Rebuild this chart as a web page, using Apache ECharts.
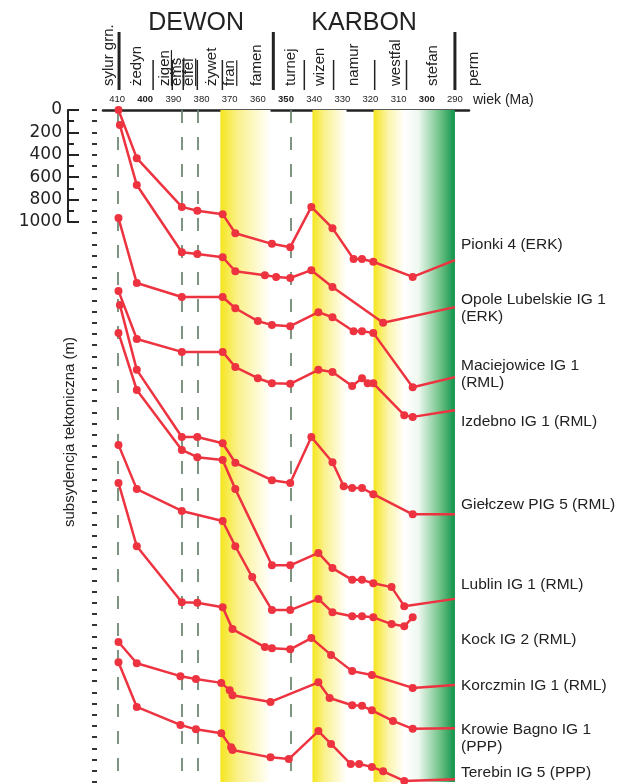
<!DOCTYPE html>
<html>
<head>
<meta charset="utf-8">
<script src="https://cdn.jsdelivr.net/npm/echarts@6/dist/echarts.min.js"></script>
<style>
html, body { margin: 0; padding: 0; background: #fff; }
#main { width: 634px; height: 784px; }
</style>
</head>
<body>
<div id="main"></div>
<script>
// [wiek (Ma), subsydencja (m)] - krzywe przesuniete w pionie jak na rysunku
var pionki = [[409.5,0],[403,430],[387,865],[381.5,900],[372.5,930],[368,1100],[355,1195],[348.5,1225],[341,865],[333.5,1055],[326,1330],[323,1330],[319,1355],[305,1490],[290,1340]];
var opole = [[409,135],[403,670],[387,1270],[381.5,1285],[372.5,1315],[368,1440],[357.5,1475],[353.5,1490],[348.5,1500],[341,1430],[333.5,1580],[315.5,1900],[290,1760]];
var maciejowice = [[409.5,965],[403,1545],[387,1670],[372.5,1670],[368,1770],[360,1885],[355,1920],[348.5,1930],[338.5,1805],[333.5,1850],[326,1975],[323,1975],[319,1990],[305,2475],[290,2385]];
var izdebno = [[409.5,1615],[403,2045],[387,2160],[372.5,2160],[368,2295],[360,2395],[355,2440],[348.5,2445],[338.5,2320],[333.5,2340],[326.5,2465],[323,2395],[321,2440],[319,2440],[308,2725],[305,2740],[290,2680]];
var gielczew = [[409,1740],[403,2320],[387,2920],[381.5,2920],[372.5,2975],[368,3150],[355,3305],[348.5,3330],[341,2920],[333.5,3145],[329.5,3360],[326.5,3375],[323,3375],[319,3430],[305,3610],[290,3610]];
var lublin = [[409.5,1990],[403,2500],[387,3035],[381.5,3100],[372.5,3125],[368,3385],[355,4065],[348.5,4065],[338.5,3955],[333.5,4090],[326.5,4195],[323,4195],[319,4225],[312.5,4260],[308,4430],[290,4365]];
var kock = [[409.5,2990],[403,3385],[387,3580],[372.5,3670],[368,3895],[362,4170],[355,4465],[348.5,4465],[338.5,4365],[333.5,4485],[326.5,4520],[323,4520],[319,4530],[312.5,4590],[308,4610],[305,4530]];
var korczmin = [[409.5,3330],[403,3895],[387,4395],[381.5,4400],[372.5,4440],[369,4635],[357.5,4795],[355,4805],[348.5,4815],[341,4715],[334,4865],[326.5,5010],[319.5,5045],[305,5160],[290,5135]];
var krowie = [[409.5,4750],[403,4940],[387.5,5055],[382,5080],[373,5115],[370,5180],[369,5225],[355.5,5285],[338.5,5110],[334.5,5250],[326.5,5315],[323,5320],[319.5,5360],[312,5455],[305,5525],[290,5520]];
var terebin = [[409.5,4930],[403,5330],[387.5,5490],[382,5530],[373,5565],[369.5,5690],[369,5715],[355.5,5780],[349,5795],[338.5,5545],[334,5660],[327,5840],[324,5840],[319.5,5865],[315.5,5905],[308,5990],[290,5975]];

var wellNames = ['Pionki 4 (ERK)', 'Opole Lubelskie IG 1\n(ERK)', 'Maciejowice IG 1\n(RML)', 'Izdebno IG 1 (RML)',
  'Giełczew PIG 5 (RML)', 'Lublin IG 1 (RML)', 'Kock IG 2 (RML)', 'Korczmin IG 1 (RML)',
  'Krowie Bagno IG 1\n(PPP)', 'Terebin IG 5 (PPP)'];
var wellData = [pionki, opole, maciejowice, izdebno, gielczew, lublin, kock, korczmin, krowie, terebin];

// skala czasu
var tickAges = [410, 400, 390, 380, 370, 360, 350, 340, 330, 320, 310, 300, 290];
var scaleTicks = [0, 200, 400, 600, 800, 1000];
var eraNames = ['DEWON', 'KARBON'];
var eraBounds = [409.3, 354.5, 290];
var stageBounds = [397.2, 390.4, 386.5, 381.5, 372.6, 343.5, 333.1, 318.5, 307.2];
var stageNames = ['sylur grn.', 'żedyn', 'zigen', 'ems', 'eifel', 'żywet', 'fran', 'famen', 'turnej', 'wizen', 'namur', 'westfal', 'stefan', 'perm'];
var stageMid = [413, 403, 393, 388.6, 384.4, 376.2, 369.8, 360.5, 348.4, 337.8, 326, 311.1, 297.9, 283.3];
var underlined = ['zigen', 'ems', 'eifel', 'fran'];
var dashedAges = [409.6, 386.9, 381.5, 348.4];
var bandFrom = [373.3, 340.6, 318.9];
var bandTo = [355.5, 328.5, 290];

var FONT = '"Liberation Sans", Arial, sans-serif';
var RED = '#ee3340';

var yellowFade = {
  type: 'linear', x: 0, y: 0, x2: 1, y2: 0,
  colorStops: [{ offset: 0, color: '#f5e51e' }, { offset: 0.35, color: '#faf18c' }, { offset: 1, color: '#ffffff' }]
};
var yellowGreen = {
  type: 'linear', x: 0, y: 0, x2: 1, y2: 0,
  colorStops: [
    { offset: 0, color: '#f5e51e' }, { offset: 0.18, color: '#fbf5ab' }, { offset: 0.38, color: '#ffffff' },
    { offset: 0.55, color: '#eef8f0' }, { offset: 0.8, color: '#78c68e' }, { offset: 1, color: '#10934a' }
  ]
};
var bandColors = [yellowFade, yellowFade, yellowGreen];

var series = [];
series.push({
  name: 'tlo',
  type: 'line',
  data: [],
  z: 1,
  silent: true,
  markArea: {
    silent: true,
    data: bandFrom.map(function (a, i) {
      return [{ xAxis: a, itemStyle: { color: bandColors[i] } }, { xAxis: bandTo[i] }];
    })
  },
  markLine: {
    silent: true,
    symbol: ['none', 'none'],
    label: { show: false },
    lineStyle: { color: '#66836b', width: 2, type: [13, 14], opacity: 0.85 },
    data: dashedAges.map(function (a) { return { xAxis: a }; })
  }
});
for (var j = 0; j < wellData.length; j++) {
  series.push({
    name: wellNames[j].replace('\n', ' '),
    type: 'line',
    z: 5,
    clip: false,
    symbol: 'circle',
    symbolSize: 8,
    itemStyle: { color: RED },
    lineStyle: { color: RED, width: 2.5 },
    data: wellData[j].map(function (p) {
      // ostatni punkt (290 Ma) bez kolka - linia dochodzi do krawedzi
      return p[0] === 290 ? { value: p, symbol: 'none' } : p;
    })
  });
}

var option = {
  animation: false,
  backgroundColor: '#fff',
  grid: [
    { left: 103, right: 165, top: 110, bottom: 2 },
    { left: 68, top: 110, width: 20, height: 112 }
  ],
  xAxis: [
    {
      gridIndex: 0,
      type: 'value',
      min: 285,
      max: 415,
      inverse: true,
      position: 'top',
      offset: 20,
      axisLine: { show: true, lineStyle: { color: '#222', width: 2.5 } },
      axisTick: { show: false },
      axisLabel: {
        inside: true,
        margin: 4,
        customValues: tickAges,
        fontFamily: FONT,
        fontSize: 9.5,
        color: '#222',
        formatter: function (v) {
          return v % 50 === 0 ? '{b|' + v + '}' : String(v);
        },
        rich: { b: { fontWeight: 'bold', fontSize: 9.5, fontFamily: FONT, color: '#222' } }
      },
      splitLine: { show: false }
    },
    { gridIndex: 1, type: 'value', show: false }
  ],
  yAxis: [
    {
      gridIndex: 0,
      type: 'value',
      min: 0,
      max: 6000,
      interval: 100,
      inverse: true,
      position: 'left',
      offset: 6,
      axisLine: { show: false },
      axisTick: { show: true, length: 5, lineStyle: { color: '#333', width: 2 } },
      axisLabel: { show: false },
      splitLine: { show: false }
    },
    {
      gridIndex: 1,
      type: 'value',
      min: 0,
      max: 1000,
      interval: 200,
      inverse: true,
      position: 'left',
      axisLine: { show: true, onZero: false, lineStyle: { color: '#222', width: 2 } },
      axisTick: { show: true, inside: true, length: 11, lineStyle: { color: '#222', width: 2 } },
      minorTick: { show: true, splitNumber: 2, length: 6, lineStyle: { color: '#222', width: 2 } },
      axisLabel: {
        customValues: scaleTicks,
        fontFamily: '"DejaVu Sans", sans-serif',
        fontSize: 17,
        color: '#222',
        margin: 6,
        formatter: function (v) { return String(v); }
      },
      splitLine: { show: false }
    }
  ],
  series: series
};

var chart = echarts.init(document.getElementById('main'));
chart.setOption(option);

// naglowek ze stratygrafia i opisy - pozycje liczone ze skali osi
function px(age) {
  return chart.convertToPixel({ xAxisIndex: 0 }, age);
}
var measure = document.createElement('canvas').getContext('2d');
measure.font = '15px ' + FONT;

var g = [];
for (var e = 0; e < eraNames.length; e++) {
  g.push({
    type: 'text',
    x: (px(eraBounds[e]) + px(eraBounds[e + 1])) / 2,
    y: 23,
    style: { text: eraNames[e], font: '25px ' + FONT, fill: '#222', align: 'center', verticalAlign: 'middle' }
  });
}
eraBounds.forEach(function (a) {
  var x = px(a);
  g.push({ type: 'line', shape: { x1: x, y1: 32, x2: x, y2: 90 }, style: { stroke: '#222', lineWidth: 3 } });
});
stageBounds.forEach(function (a) {
  var x = px(a);
  g.push({ type: 'line', shape: { x1: x, y1: 60, x2: x, y2: 90 }, style: { stroke: '#222', lineWidth: 1.5 } });
});
stageNames.forEach(function (name, i) {
  var x = px(stageMid[i]);
  g.push({
    type: 'text',
    x: x,
    y: 86,
    rotation: Math.PI / 2,
    style: { text: name, font: '15px ' + FONT, fill: '#222', align: 'left', verticalAlign: 'middle' }
  });
  if (underlined.indexOf(name) >= 0) {
    var w = measure.measureText(name).width;
    g.push({ type: 'line', shape: { x1: x + 6.5, y1: 86, x2: x + 6.5, y2: 86 - w }, style: { stroke: '#222', lineWidth: 1.2 } });
  }
});
g.push({
  type: 'text', x: 473, y: 100,
  style: { text: 'wiek (Ma)', font: '14px ' + FONT, fill: '#222', align: 'left', verticalAlign: 'middle' }
});
g.push({
  type: 'text', x: 70, y: 432, rotation: Math.PI / 2,
  style: { text: 'subsydencja tektoniczna (m)', font: '15px ' + FONT, fill: '#222', align: 'center', verticalAlign: 'middle' }
});
var labelY = [245, 308, 374, 422, 505, 585, 640, 686, 738, 773];
wellNames.forEach(function (n, i) {
  g.push({
    type: 'text', x: 461, y: labelY[i],
    style: { text: n, font: '15.5px ' + FONT, fill: '#222', align: 'left', verticalAlign: 'middle', lineHeight: 17 }
  });
});
chart.setOption({ graphic: g });
</script>
</body>
</html>
